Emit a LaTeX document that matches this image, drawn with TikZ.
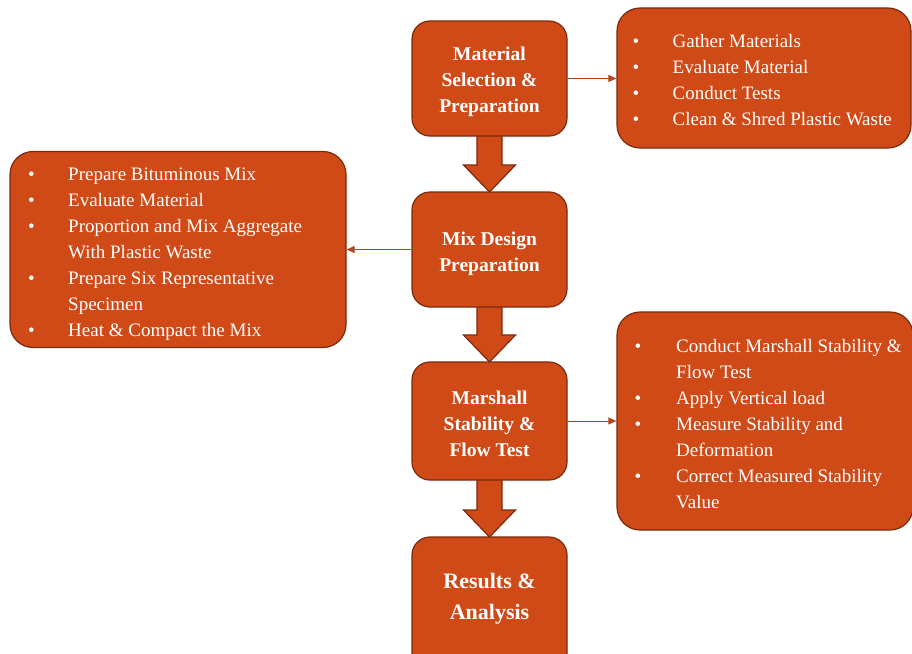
\documentclass[tikz,border=0pt]{standalone}
\usepackage{fontspec}
\setmainfont{Liberation Serif}
\usetikzlibrary{calc,arrows.meta}
\definecolor{boxfill}{HTML}{D04A17}
\definecolor{boxline}{HTML}{7A2A0C}
\definecolor{arrline}{HTML}{B8441A}
\begin{document}
\begin{tikzpicture}[x=1pt,y=-1pt,
  mainbox/.style={draw=boxline, fill=boxfill, line width=1.2pt, rounded corners=18pt,
    minimum width=155pt, inner sep=0pt},
  maintext/.style={inner sep=0pt, text=white, align=center,
    font=\fontsize{19.5}{26}\selectfont\bfseries},
  listbox/.style={draw=boxline, fill=boxfill, line width=1.2pt, rounded corners=23pt, inner sep=0pt},
  listtext/.style={anchor=base west, inner sep=0pt, text=white, font=\fontsize{19}{26}\selectfont},
  blockarrow/.style={draw=boxline, fill=boxfill, line width=1.2pt, line join=miter},
  thinarrow/.style={draw=arrline, line width=1pt, -{Triangle[length=8pt,width=7pt]}}
]
\useasboundingbox (0,0) rectangle (912,653);

% block arrows (drawn first, boxes on top)
\coordinate (a1s) at (489.5,110);
\coordinate (a2s) at (489.5,280);
\coordinate (a3s) at (489.5,450);
\coordinate (a1e) at (489.5,192);
\coordinate (a2e) at (489.5,362);
\coordinate (a3e) at (489.5,537);
\foreach \s/\e in {a1s/a1e,a2s/a2e,a3s/a3e}{
  \draw[blockarrow] let \p1=(\s), \p2=(\e) in
    (\x1-12.5pt,\y1) -- (\x1-12.5pt,\y2+27pt) -- (\x1-26pt,\y2+27pt) -- (\x2,\y2)
    -- (\x1+26pt,\y2+27pt) -- (\x1+12.5pt,\y2+27pt) -- (\x1+12.5pt,\y1);
}

% main boxes
\node[mainbox, minimum height=115pt] (m1) at (489.5,78.5) {};
\node[mainbox, minimum height=115pt] (m2) at (489.5,249.5) {};
\node[mainbox, minimum height=118pt] (m3) at (489.5,421) {};
\node[mainbox, minimum height=140pt] (m4) at (489.5,607) {};
\node[maintext] (m1t) at (489.5,81.5) {Material\\Selection \&\\Preparation};
\node[maintext] (m2t) at (489.5,253.5) {Mix Design\\Preparation};
\node[maintext] (m3t) at (489.5,423.5) {Marshall\\Stability \&\\Flow Test};
\node[maintext, font=\fontsize{22}{31}\selectfont\bfseries] (m4t) at (489.5,598.5) {Results \&\\Analysis};

% list boxes
\node[listbox, minimum width=294pt, minimum height=140pt] (r1) at (764,78) {};
\node[listbox, minimum width=336pt, minimum height=196pt] (l1) at (178,249.5) {};
\node[listbox, minimum width=296pt, minimum height=218pt] (r2) at (765,421) {};

\node[listtext] (r1t) at (632.5,47) {\begin{tabular}[t]{@{}p{40pt}@{}l@{}}
•&Gather Materials\\
•&Evaluate Material\\
•&Conduct Tests\\
•&Clean \& Shred Plastic Waste
\end{tabular}};

\node[listtext] (l1t) at (28,180.5) {\begin{tabular}[t]{@{}p{40pt}@{}l@{}}
•&Prepare Bituminous Mix\\
•&Evaluate Material\\
•&Proportion and Mix Aggregate\\
&With Plastic Waste\\
•&Prepare Six Representative\\
&Specimen\\
•&Heat \& Compact the Mix
\end{tabular}};

\node[listtext] (r2t) at (634.5,352) {\begin{tabular}[t]{@{}p{41.5pt}@{}l@{}}
•&Conduct Marshall Stability \&\\
&Flow Test\\
•&Apply Vertical load\\
•&Measure Stability and\\
&Deformation\\
•&Correct Measured Stability\\
&Value
\end{tabular}};

% thin connectors
\draw[thinarrow] (m1.east) -- (r1.west |- m1.east);
\draw[thinarrow] (m2.west) -- (l1.east |- m2.west);
\draw[thinarrow] (m3.east) -- (r2.west |- m3.east);
\end{tikzpicture}
\end{document}
